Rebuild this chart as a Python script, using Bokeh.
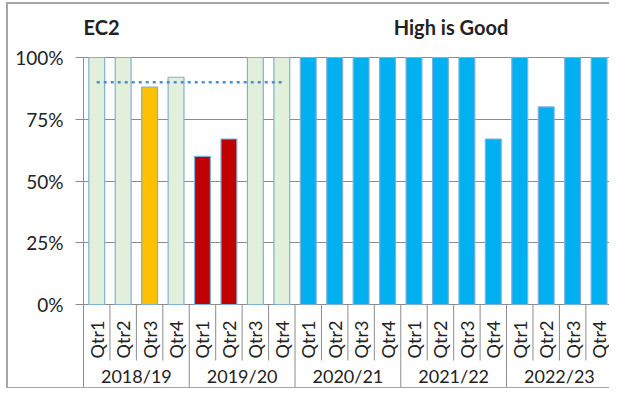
import numpy as np
from bokeh.plotting import figure
from bokeh.models import ColumnDataSource, Range1d, FixedTicker, NumeralTickFormatter
from bokeh.core.properties import value
from bokeh.embed import file_html
from bokeh.resources import INLINE

# ---- data ----
years = ["2018/19", "2019/20", "2020/21", "2021/22", "2022/23"]
quarters = ["Qtr1", "Qtr2", "Qtr3", "Qtr4"]
values = [1.00, 1.00, 0.88, 0.92,
          0.60, 0.67, 1.00, 1.00,
          1.00, 1.00, 1.00, 1.00,
          1.00, 1.00, 1.00, 0.67,
          1.00, 0.80, 1.00, 1.00]
status = ["met", "met", "near", "met",
          "below", "below", "met", "met",
          "good", "good", "good", "good",
          "good", "good", "good", "good",
          "good", "good", "good", "good"]
target = [0.90, 0.90, 0.90, 0.90, 0.90, 0.90, 0.90, 0.90]
y_ticks = [0.0, 0.25, 0.50, 0.75, 1.00]
title_left = "EC2"
title_right = "High is Good"

# ---- styles ----
colour_map = {"met": "#e2efda", "near": "#ffc000", "below": "#c00000", "good": "#00b0f0"}
FONT = "Lato"
TXT = "#222222"
GRID = "#8c8c8c"

n = len(years) * len(quarters)
labels_q = [q for y in years for q in quarters]
cat_x = np.arange(n) + 0.5

src = ColumnDataSource(dict(x=cat_x, top=values,
                            color=[colour_map[s] for s in status]))

Y0, Y1 = -0.3482, 1.2146
p = figure(width=603, height=386, x_range=Range1d(0, 19.97), y_range=Range1d(Y0, Y1),
           output_backend="svg", toolbar_location=None,
           min_border_left=75, min_border_right=0, min_border_top=0, min_border_bottom=0,
           x_axis_location=None, y_axis_location="left")
p.styles = {"margin-left": "6px", "margin-top": "2px",
            "border-top": "2px solid #a6a6a6", "border-left": "2px solid #a6a6a6",
            "border-bottom": "1px solid #a6a6a6"}
p.outline_line_color = None
p.background_fill_color = "white"
p.border_fill_color = "white"

ax = p.yaxis[0]
ax.ticker = FixedTicker(ticks=y_ticks)
ax.formatter = NumeralTickFormatter(format="0%")
ax.bounds = (Y0, 1.0)
ax.major_tick_out = 8
ax.major_tick_in = 0
ax.minor_tick_line_color = None
ax.axis_line_color = GRID
ax.major_tick_line_color = GRID
ax.major_label_standoff = 12
ax.major_label_text_font = FONT
ax.major_label_text_font_size = "19px"
ax.major_label_text_color = TXT

p.xgrid.visible = False
p.ygrid.ticker = FixedTicker(ticks=y_ticks)
p.ygrid.grid_line_color = GRID

# bars
p.vbar(x="x", top="top", bottom=0, width=0.6, fill_color="color",
       line_color="#7fb0dc", line_width=1.2, source=src)

# target line
p.line(x=cat_x[:len(target)], y=target, line_color="#4a8fcc", line_width=2.5,
       line_dash="3 4")

# category table separators
bx = np.arange(0, n + 1)
is_year = (bx % len(quarters)) == 0
p.segment(x0=bx, y0=np.zeros(len(bx)), x1=bx, y1=np.where(is_year, Y0 - 0.1, -0.2267),
          line_color=GRID, line_width=1)

# quarter labels
p.text(x=cat_x, y=-0.1417, text=labels_q, angle=np.pi / 2, text_align="center",
       text_baseline="middle", text_font=value(FONT), text_font_size="18px",
       text_color=TXT)
# year labels
year_x = np.arange(len(years)) * len(quarters) + len(quarters) / 2
p.text(x=year_x, y=-0.2875, text=years, text_align="center", text_baseline="middle",
       text_font=value(FONT), text_font_size="18px", text_color=TXT)

# titles
p.text(x=[0.0], y=[1.1235], text=[title_left], text_align="left", text_baseline="middle",
       text_font=value(FONT), text_font_size="20px", text_font_style="bold", text_color=TXT)
p.text(x=[13.9], y=[1.1235], text=[title_right], text_align="center", text_baseline="middle",
       text_font=value(FONT), text_font_size="20px", text_font_style="bold", text_color=TXT)

open("out.html", "w").write(file_html(p, INLINE))
